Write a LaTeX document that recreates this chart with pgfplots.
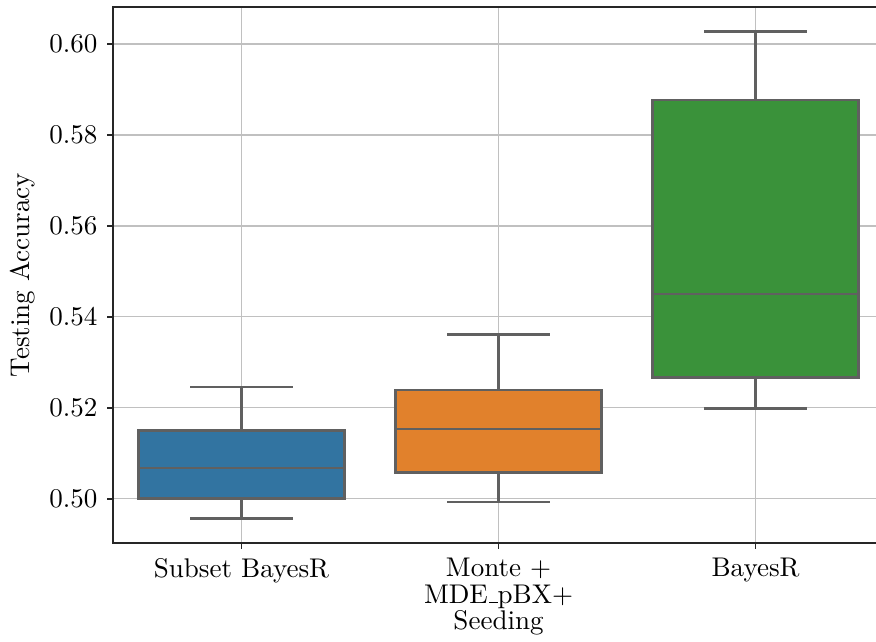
\documentclass[border=0pt]{standalone}
\usepackage{pgfplots}
\pgfplotsset{compat=1.18}
\usepgfplotslibrary{statistics}
\definecolor{sbblue}{RGB}{50,116,161}
\definecolor{sborange}{RGB}{225,129,44}
\definecolor{sbgreen}{RGB}{58,146,58}
\definecolor{edgegray}{RGB}{96,96,96}
\definecolor{gridgray}{RGB}{192,192,192}
\newcommand{\us}{\kern.06em\rule{.3em}{.45pt}}
\begin{document}
\begin{tikzpicture}
\begin{axis}[
  scale only axis, width=285.3pt, height=198.3pt,
  xmin=-0.5, xmax=2.5, ymin=0.49026, ymax=0.60813,
  xtick={0,1,2},
  xticklabels={Subset BayesR, {Monte +\\MDE\us pBX+\\Seeding}, BayesR},
  xticklabel style={align=center, font=\fontsize{10}{9.8}\selectfont},
  ytick={0.50,0.52,0.54,0.56,0.58,0.60},
  yticklabel style={/pgf/number format/.cd, fixed, fixed zerofill, precision=2},
  ylabel={Testing Accuracy},
  ylabel style={at={(axis description cs:-0.1174,0.5)}, anchor=center},
  grid=major, major grid style={gridgray, line width=0.5pt},
  tick pos=left, tick align=outside, major tick length=2.2pt,
  axis line style={black!85, line width=0.7pt},
  every tick/.style={black!85, line width=0.6pt},
  boxplot/draw direction=y,
]
\addplot[boxplot prepared={draw position=0, box extend=0.8, whisker extend=0.4, lower whisker=0.4956, lower quartile=0.5000, median=0.50675, upper quartile=0.51495, upper whisker=0.52455}, draw=edgegray, fill=sbblue, line width=1pt, solid] coordinates {};
\addplot[boxplot prepared={draw position=1, box extend=0.8, whisker extend=0.4, lower whisker=0.49927, lower quartile=0.50578, median=0.51532, upper quartile=0.5239, upper whisker=0.53604}, draw=edgegray, fill=sborange, line width=1pt, solid] coordinates {};
\addplot[boxplot prepared={draw position=2, box extend=0.8, whisker extend=0.4, lower whisker=0.51985, lower quartile=0.52666, median=0.54505, upper quartile=0.58769, upper whisker=0.60279}, draw=edgegray, fill=sbgreen, line width=1pt, solid] coordinates {};
\end{axis}
\pgfresetboundingbox
\useasboundingbox (-41.8pt,-36.6pt) rectangle (282.3pt,200.9pt);
\end{tikzpicture}
\end{document}
